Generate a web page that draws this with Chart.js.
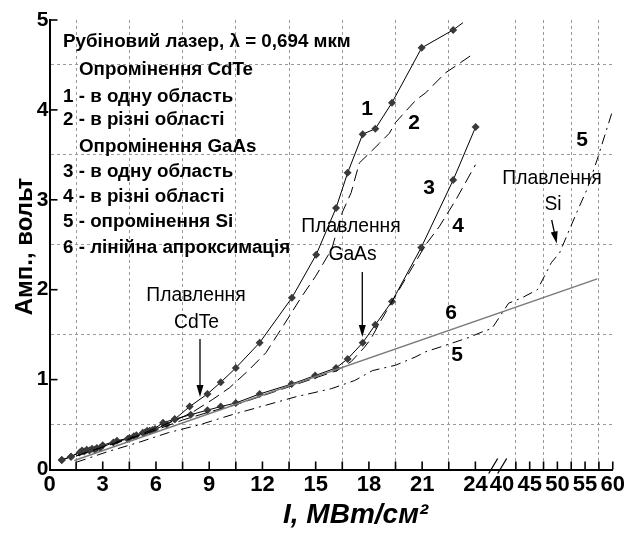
<!DOCTYPE html>
<html><head><meta charset="utf-8">
<script src="https://cdn.jsdelivr.net/npm/chart.js@4/dist/chart.umd.min.js"></script>
<style>html,body{margin:0;padding:0;background:#fff}canvas{display:block}</style>
</head><body>
<canvas id="c" width="627" height="533"></canvas>
<script>
// ---- data (real intensity I, MW/cm^2 ; amplitude, V) ----
const C1_X = [0.69,1.21,1.83,2.1,2.4,2.67,3.0,3.8,4.5,4.75,5.26,5.5,5.8,6.4,7.06,7.9,8.9,9.65,10.5,11.84,13.66,15.03,16.15,16.8,17.65,18.36,19.3,20.97,22.75,23.3];
const C1_Y = [0.106,0.143,0.21,0.22,0.23,0.24,0.27,0.32,0.35,0.37,0.41,0.43,0.44,0.52,0.56,0.70,0.84,0.97,1.13,1.41,1.91,2.39,2.91,3.30,3.73,3.79,4.08,4.69,4.89,4.97];
const C2_X = [1.5,3,4.5,6,7,8,9.2,10.15,11.2,12.2,12.85,13.5,14.2,15.0,15.9,16.5,17.0,17.46,17.93,18.6,19.15,19.5,20.65,21.2,22.3,22.9,23.93];
const C2_Y = [0.15,0.25,0.34,0.46,0.54,0.63,0.78,0.91,1.1,1.3,1.5,1.7,1.92,2.15,2.45,2.86,3.08,3.41,3.50,3.63,3.74,3.86,4.11,4.19,4.41,4.49,4.63];
const C3_X = [0.69,1.21,1.7,1.95,2.25,2.55,2.85,3.6,4.4,4.9,5.35,5.65,5.95,6.6,7.06,7.96,8.9,9.65,10.5,11.84,13.64,14.97,16.15,16.8,17.65,18.36,19.3,20.95,22.75,24.15];
const C3_Y = [0.106,0.143,0.19,0.2,0.21,0.22,0.24,0.3,0.34,0.38,0.41,0.43,0.45,0.5,0.56,0.61,0.66,0.70,0.74,0.84,0.95,1.045,1.13,1.23,1.41,1.61,1.87,2.47,3.22,3.81];
const C4_X = [1.5,3,4.5,6,7.5,9,10.5,12,13.5,15,16.2,17,17.75,18.1,18.6,19.55,20.3,21.2,21.96,22.9,24.05];
const C4_Y = [0.15,0.25,0.34,0.44,0.55,0.64,0.72,0.82,0.92,1.02,1.10,1.2,1.36,1.45,1.63,1.95,2.2,2.50,2.70,3.0,3.39];
const C5_X = [1.5,3.3,5,6.7,8.5,10.3,12.1,13.9,14.8,15.9,17.2,18.2,19.5,20.6,21.2,22.3,23.65,28,34,41.2,43.6,46.4,48.9,50.4,53.5,55.3,57.2,59.9];
const C5_Y = [0.08,0.2,0.3,0.41,0.5,0.61,0.71,0.81,0.85,0.9,0.99,1.1,1.16,1.25,1.31,1.38,1.47,1.53,1.57,1.85,1.91,2.0,2.3,2.41,2.86,3.11,3.45,3.98];
const C6_X = [1.4,57.2];
const C6_Y = [0.1,2.12];

const X_TICK_VALUES = [0,1.5,3,4.5,6,7.5,9,10.5,12,13.5,15,16.5,18,19.5,21,22.5,24,40,42.5,45,47.5,50,52.5,55,57.5,60];
const X_TICK_LABELS = ['0','','3','','6','','9','','12','','15','','18','','21','','24','40','','45','','50','','55','','60'];
const Y_TICK_VALUES = [0,0.5,1,1.5,2,2.5,3,3.5,4,4.5,5];
const Y_TICK_LABELS = ['0','','1','','2','','3','','4','','5'];

const LEGEND_LINES = ['Рубіновий лазер, λ = 0,694 мкм','Опромінення CdTe','1 - в одну область','2 - в різні області','Опромінення GaAs','3 - в одну область','4 - в різні області','5 - опромінення Si','6 - лінійна апроксимація'];
const X_TITLE = 'I, МВт/см²';
const Y_TITLE = 'Амп., вольт';

// ---- broken x axis: 0..24 full scale, 40..60 compressed ----
const U40 = 25.5, K = 0.3121;
function toU(x){ if (x <= 24) return x; if (x >= 40) return U40 + (x - 40) * K; return 24 + (x - 24) / 16 * (U40 - 24); }
const pts = (xs, ys) => xs.map((x, i) => ({x: toU(x), y: ys[i]}));

const FONT = 'Liberation Sans, Arial, sans-serif';
const MARK = '#3a3a3a';

const datasets = [
  {data: pts(C6_X, C6_Y), borderColor: '#7a7a7a', borderWidth: 1.5, pointRadius: 0},
  {data: pts(C5_X, C5_Y), borderColor: '#000', borderWidth: 1, borderDash: [10,5,2,5], pointRadius: 0},
  {data: pts(C4_X, C4_Y), borderColor: '#000', borderWidth: 1, borderDash: [12,6], pointRadius: 0},
  {data: pts(C2_X, C2_Y), borderColor: '#000', borderWidth: 1, borderDash: [12,6], pointRadius: 0},
  {data: pts(C3_X, C3_Y), borderColor: '#000', borderWidth: 1, pointStyle: 'rectRot', pointRadius: 4, pointBackgroundColor: MARK, pointBorderColor: MARK, pointBorderWidth: 0},
  {data: pts(C1_X, C1_Y), borderColor: '#000', borderWidth: 1, pointStyle: 'rectRot',
   pointRadius: C1_X.map((x, i) => i === C1_X.length - 1 ? 0 : 4), pointBackgroundColor: MARK, pointBorderColor: MARK, pointBorderWidth: 0}
];

function arrow(ctx, x1, y1, x2, y2){
  const a = Math.atan2(y2 - y1, x2 - x1), L = 12, W = 3.5;
  ctx.beginPath(); ctx.moveTo(x1, y1); ctx.lineTo(x2 - L*Math.cos(a)*0.6, y2 - L*Math.sin(a)*0.6); ctx.stroke();
  ctx.beginPath(); ctx.moveTo(x2, y2);
  ctx.lineTo(x2 - L*Math.cos(a) + W*Math.sin(a), y2 - L*Math.sin(a) - W*Math.cos(a));
  ctx.lineTo(x2 - L*Math.cos(a) - W*Math.sin(a), y2 - L*Math.sin(a) + W*Math.cos(a));
  ctx.closePath(); ctx.fill();
}

const decor = {
  id: 'decor',
  afterDraw(chart){
    const ctx = chart.ctx, xs = chart.scales.x, ys = chart.scales.y, ca = chart.chartArea;
    ctx.save();
    ctx.strokeStyle = '#000'; ctx.fillStyle = '#000'; ctx.lineWidth = 1.6;
    // inward tick marks
    X_TICK_VALUES.forEach(v => { if (v === 0 || v === 40) return; const p = xs.getPixelForValue(toU(v));
      ctx.beginPath(); ctx.moveTo(p, ca.bottom); ctx.lineTo(p, ca.bottom - 8); ctx.stroke(); });
    Y_TICK_VALUES.forEach((v, i) => { if (Y_TICK_LABELS[i] === '' || v === 0) return; const p = ys.getPixelForValue(v);
      ctx.beginPath(); ctx.moveTo(ca.left, p); ctx.lineTo(ca.left + 8, p); ctx.stroke(); });
    // axis break marks
    const bx = (xs.getPixelForValue(24) + xs.getPixelForValue(U40)) / 2 + 9;
    ctx.lineWidth = 1.3;
    [-5, 4].forEach(d => { ctx.beginPath(); ctx.moveTo(bx + d - 4, ca.bottom + 4); ctx.lineTo(bx + d + 5, ca.bottom - 11); ctx.stroke(); });
    // legend text
    ctx.font = 'bold 18.8px ' + FONT; ctx.textAlign = 'left'; ctx.textBaseline = 'alphabetic';
    const LY = [46.5, 75, 101.5, 125, 151.5, 176.5, 201.5, 226.5, 253];
    LEGEND_LINES.forEach((t, i) => ctx.fillText(t, (i === 1 || i === 4) ? 79 : 63, LY[i]));
    // curve numbers
    ctx.font = 'bold 21px ' + FONT; ctx.textAlign = 'center'; ctx.textBaseline = 'middle';
    [['1',367,109],['2',414,123],['3',429,188],['4',458,226],['5',582,140],['6',451,313],['5',457,355]].forEach(a => ctx.fillText(a[0], a[1], a[2]));
    // melting annotations
    ctx.font = '19.3px ' + FONT;
    [['Плавлення',196,296],['CdTe',196.5,323],['Плавлення',351,227],['GaAs',352.5,255],['Плавлення',552,179],['Si',553,205]].forEach(a => ctx.fillText(a[0], a[1], a[2]));
    ctx.lineWidth = 1.3;
    arrow(ctx, 200, 339, 200, 397);
    arrow(ctx, 362.3, 272, 362.3, 337);
    arrow(ctx, 551.7, 220, 556.7, 243.5);
    // axis titles
    ctx.font = 'bold italic 28px ' + FONT; ctx.textAlign = 'left'; ctx.textBaseline = 'alphabetic';
    ctx.fillText(X_TITLE, 283, 523);
    ctx.save(); ctx.translate(32, 246.5); ctx.rotate(-Math.PI/2);
    ctx.font = 'bold 24px ' + FONT; ctx.textAlign = 'center'; ctx.fillText(Y_TITLE, 0, 0); ctx.restore();
    ctx.restore();
  }
};

new Chart(document.getElementById('c'), {
  type: 'line',
  data: {datasets},
  options: {
    responsive: false, animation: false, events: [],
    layout: {padding: {top: 20, right: 13, left: 0, bottom: 0}},
    plugins: {legend: {display: false}, tooltip: {enabled: false}},
    elements: {line: {tension: 0}},
    scales: {
      x: {
        type: 'linear', min: 0, max: toU(60),
        afterBuildTicks: s => { s.ticks = X_TICK_VALUES.map(v => ({value: toU(v)})); },
        afterFit: s => { s.height = 63.5; },
        grid: {drawTicks: false, lineWidth: 1, color: c => (c.type === 'tick' && X_TICK_LABELS[c.index] === '') ? '#9a9a9a' : 'rgba(0,0,0,0)'},
        border: {display: true, color: '#000', width: 2, dash: [3,3]},
        ticks: {autoSkip: false, maxRotation: 0, padding: 2, color: '#000', font: {family: FONT, size: 22, weight: 'bold'},
                callback: (v, i) => X_TICK_LABELS[i]}
      },
      y: {
        type: 'linear', min: 0, max: 5,
        afterBuildTicks: s => { s.ticks = Y_TICK_VALUES.map(v => ({value: v})); },
        afterFit: s => { s.width = 49.5; },
        grid: {drawTicks: false, lineWidth: 1, color: c => (c.type === 'tick' && Y_TICK_LABELS[c.index] === '') ? '#9a9a9a' : 'rgba(0,0,0,0)'},
        border: {display: true, color: '#000', width: 2, dash: [3,3]},
        ticks: {autoSkip: false, padding: 1, color: '#000', font: {family: FONT, size: 21, weight: 'bold'},
                callback: (v, i) => Y_TICK_LABELS[i]}
      }
    }
  },
  plugins: [decor]
});
</script>
</body></html>
